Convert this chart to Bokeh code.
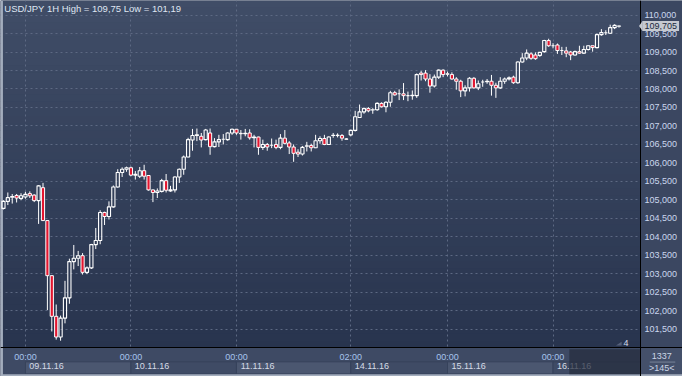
import numpy as np
from bokeh.plotting import figure
from bokeh.models import (Range1d, LinearAxis, FixedTicker, Label, BoxAnnotation,
                          PolyAnnotation)
from bokeh.embed import file_html
from bokeh.resources import INLINE

# ---------------- data ----------------
title_text = "USD/JPY 1H High = 109,75 Low = 101,19"

opens = [104.77, 104.96, 105.07, 105.12, 105.04, 105.08, 105.17, 105.13, 104.98, 105.33,
         104.44, 102.95, 101.85, 101.29, 101.80, 102.35, 103.33, 103.42, 103.49, 103.04,
         103.16, 103.79, 103.90, 104.66, 104.55, 104.81, 105.35, 105.74, 105.83, 105.87,
         105.67, 105.64, 105.79, 105.66, 105.27, 105.20, 105.23, 105.52, 105.24, 105.27,
         105.62, 105.83, 106.16, 106.62, 106.74, 106.72, 106.63, 106.81, 106.44, 106.57,
         106.64, 106.63, 106.81, 106.91, 106.80, 106.79, 106.81, 106.68, 106.70, 106.42,
         106.50, 106.48, 106.50, 106.42, 106.67, 106.54, 106.43, 106.29, 106.24, 106.45,
         106.47, 106.41, 106.60, 106.66, 106.50, 106.74, 106.75, 106.74, 106.65, 106.76,
         106.88, 107.23, 107.38, 107.47, 107.43, 107.44, 107.61, 107.52, 107.64, 107.90,
         107.87, 107.87, 107.82, 107.82, 107.82, 108.43, 108.43, 108.27, 108.08, 108.32,
         108.51, 108.41, 108.39, 108.27, 108.21, 107.95, 108.03, 108.29, 108.03, 108.19,
         108.20, 108.21, 108.10, 108.03, 108.21, 108.27, 108.32, 108.17, 108.73, 108.84,
         108.95, 108.92, 108.91, 109.01, 109.31, 109.17, 109.19, 109.04, 109.03, 109.00,
         108.92, 109.01, 108.97, 109.07, 109.17, 109.12, 109.47, 109.52, 109.51, 109.66,
         109.70]
highs = [104.99, 105.20, 105.16, 105.16, 105.18, 105.22, 105.23, 105.15, 105.40, 105.46,
         104.45, 102.96, 102.17, 101.87, 102.81, 103.41, 103.78, 103.62, 103.56, 103.20,
         103.81, 104.24, 104.72, 104.68, 104.96, 105.39, 105.83, 105.88, 105.90, 105.90,
         105.78, 105.89, 105.95, 105.67, 105.28, 105.31, 105.57, 105.70, 105.38, 105.64,
         105.85, 106.20, 106.68, 106.92, 106.93, 106.81, 106.92, 106.93, 106.67, 106.76,
         106.78, 106.83, 106.93, 106.92, 106.89, 106.92, 106.91, 106.76, 106.71, 106.63,
         106.54, 106.66, 106.63, 106.78, 106.89, 106.59, 106.50, 106.37, 106.46, 106.57,
         106.52, 106.76, 106.72, 106.76, 106.72, 106.81, 106.80, 106.78, 106.67, 106.90,
         107.41, 107.58, 107.50, 107.51, 107.48, 107.64, 107.64, 107.67, 107.95, 107.95,
         107.99, 108.16, 107.93, 107.96, 108.42, 108.49, 108.51, 108.40, 108.39, 108.53,
         108.53, 108.47, 108.45, 108.32, 108.25, 108.10, 108.32, 108.32, 108.23, 108.25,
         108.27, 108.38, 108.17, 108.32, 108.31, 108.34, 108.36, 108.75, 108.97, 109.07,
         108.99, 108.99, 108.99, 109.33, 109.36, 109.24, 109.23, 109.14, 109.14, 109.03,
         109.04, 109.17, 109.17, 109.18, 109.17, 109.50, 109.62, 109.59, 109.74, 109.75,
         109.72]
lows = [104.74, 104.86, 104.90, 104.93, 104.99, 105.03, 105.05, 104.94, 104.35, 104.44,
        102.02, 101.44, 101.22, 101.19, 101.66, 102.19, 103.12, 103.21, 102.98, 102.99,
        103.13, 103.67, 103.80, 104.32, 104.47, 104.79, 105.33, 105.62, 105.76, 105.64,
        105.55, 105.59, 105.55, 105.25, 104.94, 105.05, 105.20, 105.20, 105.22, 105.20,
        105.46, 105.68, 106.15, 106.33, 106.59, 106.42, 106.61, 106.22, 106.42, 106.43,
        106.50, 106.60, 106.76, 106.76, 106.63, 106.72, 106.63, 106.42, 106.22, 106.35,
        106.33, 106.40, 106.37, 106.37, 106.50, 106.24, 106.03, 106.16, 106.20, 106.31,
        106.31, 106.40, 106.52, 106.48, 106.50, 106.68, 106.69, 106.60, 106.63, 106.72,
        106.85, 107.23, 107.33, 107.37, 107.33, 107.41, 107.50, 107.37, 107.52, 107.82,
        107.70, 107.70, 107.67, 107.71, 107.76, 108.23, 108.21, 107.90, 108.04, 108.27,
        108.32, 108.34, 108.25, 107.98, 107.78, 107.80, 107.93, 108.01, 107.97, 108.06,
        108.14, 107.82, 107.76, 108.00, 108.14, 108.23, 108.14, 108.14, 108.71, 108.78,
        108.79, 108.79, 108.87, 108.98, 109.14, 109.10, 108.95, 108.92, 108.86, 108.78,
        108.90, 108.95, 108.95, 109.04, 109.01, 109.10, 109.44, 109.46, 109.49, 109.62,
        109.66]
closes = [104.96, 105.06, 105.09, 105.05, 105.11, 105.15, 105.11, 104.98, 105.38, 104.44,
          102.95, 101.85, 101.29, 101.80, 102.35, 103.33, 103.42, 103.49, 103.04, 103.16,
          103.79, 103.90, 104.66, 104.55, 104.81, 105.35, 105.74, 105.83, 105.87, 105.67,
          105.69, 105.79, 105.64, 105.27, 105.20, 105.24, 105.52, 105.26, 105.27, 105.62,
          105.83, 106.16, 106.63, 106.74, 106.76, 106.62, 106.89, 106.44, 106.57, 106.63,
          106.64, 106.81, 106.91, 106.81, 106.79, 106.80, 106.68, 106.70, 106.42, 106.50,
          106.43, 106.48, 106.42, 106.67, 106.53, 106.43, 106.26, 106.24, 106.42, 106.46,
          106.41, 106.60, 106.66, 106.50, 106.70, 106.75, 106.74, 106.67, 106.64, 106.88,
          107.25, 107.38, 107.47, 107.41, 107.44, 107.61, 107.52, 107.64, 107.90, 107.84,
          107.87, 107.82, 107.82, 107.83, 108.39, 108.39, 108.27, 108.08, 108.32, 108.51,
          108.39, 108.40, 108.27, 108.21, 107.95, 108.03, 108.29, 108.03, 108.14, 108.19,
          108.21, 108.10, 108.03, 108.21, 108.27, 108.30, 108.17, 108.73, 108.84, 108.97,
          108.83, 108.82, 108.99, 109.31, 109.17, 109.17, 109.04, 109.04, 108.97, 108.92,
          109.01, 108.97, 109.07, 109.17, 109.12, 109.47, 109.53, 109.52, 109.66, 109.72,
          109.705]

last_price = 109.705
last_price_label = "109,705"

price_ticks = [101.5, 102.0, 102.5, 103.0, 103.5, 104.0, 104.5, 105.0, 105.5,
               106.0, 106.5, 107.0, 107.5, 108.0, 108.5, 109.0, 109.5, 110.0]
price_tick_labels = ["101,500", "102,000", "102,500", "103,000", "103,500", "104,000",
                     "104,500", "105,000", "105,500", "106,000", "106,500", "107,000",
                     "107,500", "108,000", "108,500", "109,000", "109,500", "110,000"]

day_start_bars = [5, 29, 53, 79, 101, 125]
time_labels = ["00:00", "00:00", "00:00", "02:00", "00:00", "00:00"]
date_labels = ["09.11.16", "10.11.16", "11.11.16", "14.11.16", "15.11.16", "16.11.16"]
bars_total_label = "1337"
bars_visible_label = ">145<"
scroll_label = "4"

# ---------------- layout constants (bar-index / price units) ----------------
W, H = 682, 376
XL, XR = -0.667, 154.444          # whole canvas, horizontally
YB, YT = 100.222, 110.394         # whole canvas, vertically
PX = 144.89                       # price-axis line
PY = 101.0                        # time-axis line
DATE_TOP, DATE_BOT = 100.619, 100.292
DATE_AXIS_Y = 100.64
FONT = "Liberation Sans"
DOWN_FILL = "#e3152f"

p = figure(width=W, height=H, output_backend="svg", toolbar_location=None,
           x_range=Range1d(XL, XR), y_range=Range1d(YB, YT),
           y_axis_location="right", x_axis_location="below")
p.min_border = 0
p.min_border_left = p.min_border_right = p.min_border_top = p.min_border_bottom = 0
p.background_fill_color = "#34415b"
p.border_fill_color = "#3b4761"
p.outline_line_color = None

# vertical background gradient of the chart area (below the grid)
nb = 48
edges = np.linspace(PY, YT, nb + 1)
top_rgb = np.array([64, 77, 103])
bot_rgb = np.array([40, 52, 78])
cols = []
for k in range(nb):
    t = (k + 0.5) / nb
    r, g, b = (bot_rgb + (top_rgb - bot_rgb) * t).round().astype(int)
    cols.append("#%02x%02x%02x" % (r, g, b))
p.quad(left=XL, right=PX, bottom=edges[:-1], top=edges[1:] + 0.01,
       fill_color=cols, line_color=None, level="image")

# grids
p.ygrid.ticker = FixedTicker(ticks=price_ticks)
p.xgrid.ticker = FixedTicker(ticks=day_start_bars)
for g in (p.xgrid[0], p.ygrid[0]):
    g.grid_line_color = "#5d6983"
    g.grid_line_dash = "2 3"
    g.grid_line_width = 1

# panels behind the axes (cover grid there)
p.quad(left=PX, right=XR, bottom=PY, top=YT, fill_color="#3b4761", line_color=None)
p.quad(left=XL, right=PX, bottom=YB, top=PY, fill_color="#3e4a64", line_color=None)
p.quad(left=PX, right=XR, bottom=YB, top=PY, fill_color="#44506a", line_color=None)

# date boxes (alternating shade)
box_bounds = day_start_bars + [PX]
shades = ["#4b5770" if k % 2 == 0 else "#3f4b65" for k in range(len(day_start_bars))]
p.quad(left=box_bounds[:-1], right=box_bounds[1:], bottom=DATE_BOT, top=DATE_TOP,
       fill_color=shades, line_color="#36425b", line_width=1)

# outer light strips (left / bottom)
p.quad(left=XL, right=-0.11, bottom=YB, top=YT, fill_color="#a3adbd", line_color=None)
p.quad(left=XL, right=XR, bottom=YB, top=100.285, fill_color="#a3adbd", line_color=None)

# ---------------- candles ----------------
o = np.array(opens); h = np.array(highs); l = np.array(lows); c = np.array(closes)
idx = np.arange(len(o))
btop = np.maximum(o, c)
bbot = np.minimum(o, c)
up = c >= o
p.segment(x0=idx, y0=btop, x1=idx, y1=h, line_color="white", line_width=1)
p.segment(x0=idx, y0=l, x1=idx, y1=bbot, line_color="white", line_width=1)
p.vbar(x=idx[up], top=btop[up], bottom=bbot[up], width=0.72,
       fill_alpha=0.0, line_color="white", line_width=1.1)
p.vbar(x=idx[~up], top=btop[~up], bottom=bbot[~up], width=0.72,
       fill_color=DOWN_FILL, line_color="white", line_width=1.0)

# ---------------- axes ----------------
ya = p.yaxis[0]
ya.fixed_location = PX
ya.ticker = FixedTicker(ticks=price_ticks)
ya.major_label_overrides = dict(zip(price_ticks, price_tick_labels))
ya.axis_line_color = "#000000"
ya.major_tick_line_color = None
ya.minor_tick_line_color = None
ya.major_tick_out = 0
ya.major_tick_in = 0
ya.major_label_standoff = 4
ya.major_label_text_font = FONT
ya.major_label_text_font_size = "9px"
ya.major_label_text_color = "#cbd7ee"

xa = p.xaxis[0]
xa.fixed_location = PY
xa.ticker = FixedTicker(ticks=day_start_bars)
xa.major_label_overrides = dict(zip(day_start_bars, time_labels))
xa.axis_line_color = "#000000"
xa.major_tick_line_color = None
xa.minor_tick_line_color = None
xa.major_tick_out = 0
xa.major_tick_in = 0
xa.major_label_standoff = 4
xa.major_label_text_font = FONT
xa.major_label_text_font_size = "9px"
xa.major_label_text_color = "#a6c4ec"

date_pos = [d + 4.8 for d in day_start_bars]
xa2 = LinearAxis(fixed_location=DATE_AXIS_Y, ticker=FixedTicker(ticks=date_pos),
                 major_label_overrides=dict(zip(date_pos, date_labels)))
xa2.axis_line_color = None
xa2.major_tick_line_color = None
xa2.minor_tick_line_color = None
xa2.major_tick_out = 0
xa2.major_tick_in = 0
xa2.major_label_standoff = 2
xa2.major_label_text_font = FONT
xa2.major_label_text_font_size = "9px"
xa2.major_label_text_color = "#d5dbe6"
p.add_layout(xa2, "below")

# scroll overlay at bottom right (covers part of the last date)
p.add_layout(BoxAnnotation(left=128.7, right=PX - 0.12, bottom=100.285, top=100.96,
                           fill_color="#252d3d", fill_alpha=0.72, line_color=None,
                           level="overlay"))

# ---------------- labels ----------------
p.add_layout(Label(x=0.2, y=110.19, text=title_text, text_font=FONT,
                   text_font_size="9.5px", text_color="#dfe6f2", text_baseline="middle"))

p.add_layout(PolyAnnotation(xs=[144.55, 145.4, 145.4],
                            ys=[last_price, last_price + 0.14, last_price - 0.14],
                            fill_color="#c5c9d0", fill_alpha=1, line_color=None,
                            level="overlay"))
p.add_layout(Label(x=145.35, y=last_price, text=last_price_label, text_font=FONT,
                   text_font_size="9px", text_color="#1c2940", text_baseline="middle",
                   background_fill_color="#c5c9d0", background_fill_alpha=1.0,
                   padding=2, level="overlay"))

p.add_layout(PolyAnnotation(xs=[139.3, 140.6, 140.6],
                            ys=[101.06, 101.06, 101.16],
                            fill_color="#56607a", fill_alpha=1, line_color=None))
p.add_layout(Label(x=141.6, y=101.12, text=scroll_label, text_font=FONT,
                   text_font_size="9px", text_color="#d3dbe8", text_baseline="middle",
                   text_align="center"))

p.add_layout(Label(x=149.7, y=100.79, text=bars_total_label, text_font=FONT,
                   text_font_size="9px", text_color="#cbd5e6", text_baseline="middle",
                   text_align="center", level="overlay"))
p.add_layout(Label(x=149.7, y=100.45, text=bars_visible_label, text_font=FONT,
                   text_font_size="9px", text_color="#cbd5e6", text_baseline="middle",
                   text_align="center", level="overlay"))
p.add_layout(BoxAnnotation(left=147.0, right=152.8, bottom=100.60, top=100.625,
                           fill_color="#7d889c", fill_alpha=1, line_color=None,
                           level="overlay"))

open("out.html", "w").write(file_html(p, INLINE))
